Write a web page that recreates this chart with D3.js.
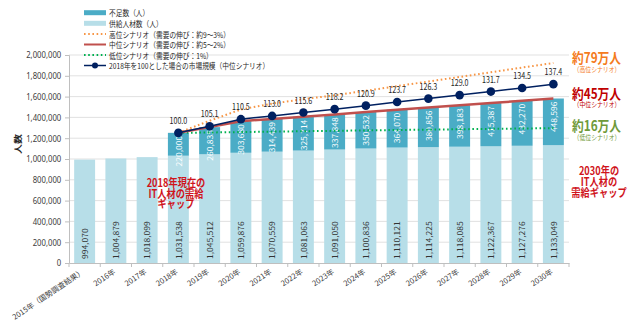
<!DOCTYPE html>
<html><head><meta charset="utf-8">
<script src="https://cdn.jsdelivr.net/npm/d3@7"></script>
<style>
html,body{margin:0;padding:0;background:#fff;}
svg{display:block;font-family:"Noto Sans CJK JP","Noto Sans",sans-serif;}
</style></head>
<body>
<svg id="chart" width="640" height="324"></svg>
<script>
const categories = ["2015年（国勢調査結果）","2016年","2017年","2018年","2019年","2020年","2021年","2022年","2023年","2024年","2025年","2026年","2027年","2028年","2029年","2030年"];
const supply = [994070,1004879,1018099,1031538,1045512,1059876,1070559,1081063,1091050,1100836,1110121,1114225,1118085,1122367,1127276,1133049];
const scenarioYears = ["2018年","2019年","2020年","2021年","2022年","2023年","2024年","2025年","2026年","2027年","2028年","2029年","2030年"];
const shortage = [220000,260835,303680,314439,325714,337848,350532,364070,380856,398183,415387,432270,448596];
const marketIndex = [100.0,105.1,110.5,113.0,115.6,118.2,120.9,123.7,126.3,129.0,131.7,134.5,137.4];
const highDemand = [1251538,1368000,1476000,1532000,1576000,1612000,1656000,1701000,1745000,1789000,1834000,1879000,1923000];
const lowDemand = [1251538,1255000,1259000,1263000,1267000,1271000,1275000,1279000,1282000,1286000,1290000,1293000,1297000];
const yTicks = [0,200000,400000,600000,800000,1000000,1200000,1400000,1600000,1800000,2000000];
const legendLabels = ["不足数（人）","供給人材数（人）","高位シナリオ（需要の伸び：約9～3%）","中位シナリオ（需要の伸び：約5～2%）","低位シナリオ（需要の伸び：1%）","2018年を100とした場合の市場規模（中位シナリオ）"];

const C = {short:"#4bacc6", supply:"#b7dee8", high:"#f79646", mid:"#c0504d", low:"#00b050", idx:"#002060", text:"#404040"};
const SX = 0.84;
const svg = d3.select("#chart");
const L = 69, R = 569, T = 55, B = 263;

const x = d3.scaleBand().domain(categories).range([L, R]).paddingInner(0.33).paddingOuter(0.165);
const y = d3.scaleLinear().domain([0, 2000000]).range([B, T]);

function txt(parent, px, py, str, o) {
  o = o || {};
  const t = parent.append("text")
    .attr("transform", `translate(${px},${py}) scale(${o.sx ?? SX},1) rotate(${o.rot || 0})`)
    .attr("text-anchor", o.anchor || "start")
    .attr("font-size", o.size || 8.5)
    .attr("font-weight", o.weight || "normal")
    .attr("fill", o.fill || C.text)
    .text(str);
  if (o.baseline) t.attr("dominant-baseline", o.baseline);
  return t;
}

// gridlines
svg.append("g").selectAll("line").data(yTicks.filter(d => d > 0)).join("line")
  .attr("x1", L).attr("x2", R).attr("y1", d => y(d)).attr("y2", d => y(d))
  .attr("stroke", "#d9d9d9").attr("stroke-width", 0.8);

// y axis
const yAxis = svg.append("g").attr("transform", `translate(${L},0)`)
  .call(d3.axisLeft(y).tickValues(yTicks).tickFormat(d3.format(",")).tickSize(4).tickPadding(5));
yAxis.select(".domain").attr("stroke", "#bfbfbf");
yAxis.selectAll(".tick line").attr("stroke", "#bfbfbf");
yAxis.selectAll(".tick text").attr("font-size", 9).attr("fill", C.text)
  .attr("font-family", "'Noto Sans','Noto Sans CJK JP',sans-serif")
  .attr("transform", "scale(0.86,1)");

// x axis
const xAxis = svg.append("g").attr("transform", `translate(0,${B})`)
  .call(d3.axisBottom(x).tickSize(0).tickFormat(""));
xAxis.select(".domain").attr("stroke", "#bfbfbf");
const step = x.step();
const bounds = d3.range(categories.length + 1).map(i => x(categories[0]) - x.paddingOuter() * step + i * step);
svg.append("g").selectAll("line").data(bounds).join("line")
  .attr("x1", d => d).attr("x2", d => d).attr("y1", B).attr("y2", B + 4)
  .attr("stroke", "#bfbfbf");
const xl = svg.append("g");
categories.forEach(c => {
  txt(xl, x(c) + x.bandwidth() / 2, B + 10, c, {anchor: "end", rot: -34, size: 7.5, sx: 1});
});

// y title
txt(svg, 17, 144, "人数", {anchor: "middle", rot: -90, size: 10, weight: "bold", baseline: "central", fill: "#262626"});

// supply bars
svg.append("g").selectAll("rect").data(categories).join("rect")
  .attr("x", d => x(d)).attr("width", x.bandwidth())
  .attr("y", (d, i) => y(supply[i])).attr("height", (d, i) => B - y(supply[i]))
  .attr("fill", C.supply);

// shortage bars
const offset = categories.indexOf(scenarioYears[0]);
svg.append("g").selectAll("rect").data(scenarioYears).join("rect")
  .attr("x", d => x(d)).attr("width", x.bandwidth())
  .attr("y", (d, i) => y(supply[i + offset] + shortage[i]))
  .attr("height", (d, i) => y(supply[i + offset]) - y(supply[i + offset] + shortage[i]))
  .attr("fill", C.short);

// supply labels
const sl = svg.append("g");
categories.forEach((c, i) => {
  txt(sl, x(c) + x.bandwidth() / 2, B - 4, d3.format(",")(supply[i]), {rot: -90, size: 8.5, baseline: "central", fill: "#333"});
});
// shortage labels
const shl = svg.append("g");
scenarioYears.forEach((c, i) => {
  txt(shl, x(c) + x.bandwidth() / 2, y(supply[i + offset] + shortage[i]) + 3, d3.format(",")(shortage[i]), {anchor: "end", rot: -90, size: 8.5, baseline: "central", fill: "#fff"});
});

const cx = d => x(d) + x.bandwidth() / 2;
const midDemand = scenarioYears.map((d, i) => supply[i + offset] + shortage[i]);
const base = midDemand[0];

// lines
const line = d3.line().x(d => d[0]).y(d => d[1]);
svg.append("path").datum(scenarioYears.map((d, i) => [cx(d), y(lowDemand[i])]))
  .attr("d", line).attr("fill", "none").attr("stroke", C.low).attr("stroke-width", 2).attr("stroke-dasharray", "1.6,2.6");
svg.append("path").datum(scenarioYears.map((d, i) => [cx(d), y(highDemand[i])]))
  .attr("d", line).attr("fill", "none").attr("stroke", C.high).attr("stroke-width", 2).attr("stroke-dasharray", "1.6,2.6");
svg.append("path").datum(scenarioYears.map((d, i) => [cx(d), y(midDemand[i])]))
  .attr("d", line).attr("fill", "none").attr("stroke", C.mid).attr("stroke-width", 2.5);
const idxPts = scenarioYears.map((d, i) => [cx(d), y(marketIndex[i] / 100 * base)]);
svg.append("path").datum(idxPts).attr("d", line).attr("fill", "none").attr("stroke", C.idx).attr("stroke-width", 1.5);
svg.append("g").selectAll("circle").data(idxPts).join("circle")
  .attr("cx", d => d[0]).attr("cy", d => d[1]).attr("r", 4.3).attr("fill", C.idx);
const il = svg.append("g");
idxPts.forEach((p, i) => {
  txt(il, p[0], p[1] - 9, d3.format(".1f")(marketIndex[i]), {anchor: "middle", size: 8.5, fill: "#262626"});
});

// legend
const lg = svg.append("g");
const ly = [12.7, 23.3, 34, 44.5, 55, 65.5];
lg.append("rect").attr("x", 84).attr("y", ly[0] - 2.5).attr("width", 22).attr("height", 5).attr("fill", C.short);
lg.append("rect").attr("x", 84).attr("y", ly[1] - 2.5).attr("width", 22).attr("height", 5).attr("fill", C.supply);
lg.append("line").attr("x1", 84).attr("x2", 106).attr("y1", ly[2]).attr("y2", ly[2]).attr("stroke", C.high).attr("stroke-width", 2).attr("stroke-dasharray", "1.6,2.6");
lg.append("line").attr("x1", 84).attr("x2", 106).attr("y1", ly[3]).attr("y2", ly[3]).attr("stroke", C.mid).attr("stroke-width", 2);
lg.append("line").attr("x1", 84).attr("x2", 106).attr("y1", ly[4]).attr("y2", ly[4]).attr("stroke", C.low).attr("stroke-width", 2).attr("stroke-dasharray", "1.6,2.6");
lg.append("line").attr("x1", 84).attr("x2", 106).attr("y1", ly[5]).attr("y2", ly[5]).attr("stroke", C.idx).attr("stroke-width", 1.5);
lg.append("circle").attr("cx", 95).attr("cy", ly[5]).attr("r", 3).attr("fill", C.idx);
legendLabels.forEach((s, i) => txt(lg, 109, ly[i], s, {size: 8, baseline: "central", fill: "#262626"}));

// right annotations
const an = svg.append("g");
txt(an, 572, 57, "約79万人", {size: 14, weight: "bold", baseline: "central", fill: "#f47b20"});
txt(an, 597, 69, "（高位シナリオ）", {anchor: "middle", size: 7, baseline: "central", fill: "#f47b20"});
txt(an, 572, 93, "約45万人", {size: 14, weight: "bold", baseline: "central", fill: "#c00000"});
txt(an, 597, 104, "（中位シナリオ）", {anchor: "middle", size: 7, baseline: "central", fill: "#c00000"});
txt(an, 572, 125, "約16万人", {size: 14, weight: "bold", baseline: "central", fill: "#6f9a3a"});
txt(an, 597, 137, "（低位シナリオ）", {anchor: "middle", size: 7, baseline: "central", fill: "#6f9a3a"});

["2030年の", "IT人材の", "需給ギャップ"].forEach((s, i) =>
  txt(an, 599, 170 + i * 11.2, s, {anchor: "middle", size: 11, weight: "bold", baseline: "central", fill: "#d0141c"}));
["2018年現在の", "IT人材の需給", "ギャップ"].forEach((s, i) =>
  txt(an, 176, 182 + i * 10.8, s, {anchor: "middle", size: 11, weight: "bold", baseline: "central", fill: "#d0141c"}));
</script>
</body></html>
